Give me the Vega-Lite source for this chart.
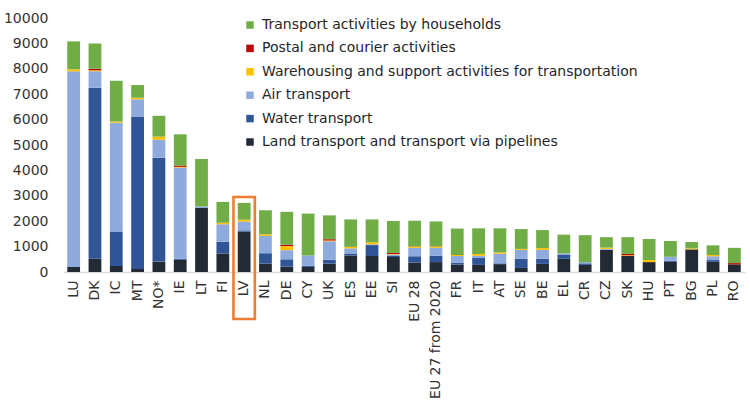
{
  "$schema": "https://vega.github.io/schema/vega-lite/v6.json",
  "width": 682,
  "height": 254,
  "autosize": {"type": "none"},
  "padding": {"left": 63, "top": 18, "right": 5, "bottom": 137},
  "config": {
    "view": {"stroke": null},
    "font": "DejaVu Sans",
    "axis": {"labelFont": "DejaVu Sans", "labelColor": "#333333"},
    "legend": {"labelFont": "DejaVu Sans", "labelColor": "#262626"}
  },
  "datasets": {
    "series": [
      {"k": "L", "name": "Land transport and transport via pipelines", "rank": 1},
      {"k": "Wa", "name": "Water transport", "rank": 2},
      {"k": "A", "name": "Air transport", "rank": 3},
      {"k": "W", "name": "Warehousing and support activities for transportation", "rank": 4},
      {"k": "P", "name": "Postal and courier activities", "rank": 5},
      {"k": "H", "name": "Transport activities by households", "rank": 6}
    ],
    "bars": [
      {"c": "LU", "L": 200, "Wa": 0, "A": 7700, "W": 80, "P": 0, "H": 1100},
      {"c": "DK", "L": 520, "Wa": 6730, "A": 650, "W": 40, "P": 60, "H": 1000},
      {"c": "IC", "L": 240, "Wa": 1350, "A": 4290, "W": 50, "P": 0, "H": 1600},
      {"c": "MT", "L": 120, "Wa": 6000, "A": 680, "W": 60, "P": 0, "H": 500},
      {"c": "NO*", "L": 410, "Wa": 4090, "A": 710, "W": 120, "P": 0, "H": 820},
      {"c": "IE", "L": 480, "Wa": 40, "A": 3590, "W": 30, "P": 50, "H": 1230},
      {"c": "LT", "L": 2520, "Wa": 0, "A": 60, "W": 0, "P": 0, "H": 1870},
      {"c": "FI", "L": 730, "Wa": 460, "A": 690, "W": 60, "P": 0, "H": 820},
      {"c": "LV", "L": 1590, "Wa": 50, "A": 350, "W": 70, "P": 0, "H": 660},
      {"c": "NL", "L": 330, "Wa": 410, "A": 680, "W": 60, "P": 0, "H": 950},
      {"c": "DE", "L": 210, "Wa": 290, "A": 360, "W": 160, "P": 50, "H": 1300},
      {"c": "CY", "L": 200, "Wa": 40, "A": 410, "W": 0, "P": 0, "H": 1650},
      {"c": "UK", "L": 330, "Wa": 150, "A": 730, "W": 30, "P": 50, "H": 940},
      {"c": "ES", "L": 650, "Wa": 80, "A": 200, "W": 60, "P": 0, "H": 1080},
      {"c": "EE", "L": 630, "Wa": 430, "A": 30, "W": 80, "P": 0, "H": 900},
      {"c": "SI", "L": 590, "Wa": 40, "A": 60, "W": 20, "P": 40, "H": 1260},
      {"c": "EU 28", "L": 370, "Wa": 250, "A": 330, "W": 50, "P": 10, "H": 1010},
      {"c": "EU 27 from 2020", "L": 390, "Wa": 250, "A": 310, "W": 50, "P": 10, "H": 980},
      {"c": "FR", "L": 290, "Wa": 80, "A": 260, "W": 40, "P": 0, "H": 1040},
      {"c": "IT", "L": 280, "Wa": 270, "A": 90, "W": 70, "P": 0, "H": 1010},
      {"c": "AT", "L": 310, "Wa": 30, "A": 380, "W": 50, "P": 0, "H": 950},
      {"c": "SE", "L": 160, "Wa": 360, "A": 350, "W": 40, "P": 0, "H": 780},
      {"c": "BE", "L": 320, "Wa": 200, "A": 350, "W": 70, "P": 0, "H": 710},
      {"c": "EL", "L": 520, "Wa": 170, "A": 40, "W": 0, "P": 0, "H": 740},
      {"c": "CR", "L": 280, "Wa": 60, "A": 50, "W": 0, "P": 0, "H": 1060},
      {"c": "CZ", "L": 870, "Wa": 0, "A": 40, "W": 50, "P": 0, "H": 410},
      {"c": "SK", "L": 630, "Wa": 0, "A": 0, "W": 30, "P": 50, "H": 660},
      {"c": "HU", "L": 390, "Wa": 0, "A": 0, "W": 80, "P": 0, "H": 830},
      {"c": "PT", "L": 400, "Wa": 40, "A": 160, "W": 0, "P": 0, "H": 620},
      {"c": "BG", "L": 890, "Wa": 0, "A": 0, "W": 40, "P": 0, "H": 250},
      {"c": "PL", "L": 400, "Wa": 70, "A": 150, "W": 50, "P": 0, "H": 380},
      {"c": "RO", "L": 300, "Wa": 0, "A": 0, "W": 0, "P": 50, "H": 600}
    ],
    "box": [
      {"c": "LV", "top": 2950, "bottom": -1850}
    ]
  },
  "layer": [
    {
      "data": {"name": "bars"},
      "transform": [
        {"fold": ["L", "Wa", "A", "W", "P", "H"], "as": ["k", "v"]},
        {"lookup": "k", "from": {"data": {"name": "series"}, "key": "k", "fields": ["name", "rank"]}}
      ],
      "mark": {"type": "bar"},
      "encoding": {
        "x": {
          "field": "c", "type": "nominal", "sort": null,
          "scale": {"paddingInner": 0.4, "paddingOuter": 0.2},
          "axis": {
            "title": null, "ticks": false, "labelAngle": -90, "labelAlign": "right",
            "labelBaseline": "middle", "labelPadding": 8, "labelFontSize": 14,
            "domainColor": "#d9d9d9", "domainWidth": 1.5
          }
        },
        "y": {
          "field": "v", "type": "quantitative", "stack": "zero",
          "scale": {"domain": [0, 10000], "nice": false},
          "axis": {
            "title": null, "grid": false, "domain": false, "ticks": false,
            "values": [0, 1000, 2000, 3000, 4000, 5000, 6000, 7000, 8000, 9000, 10000],
            "format": "d", "labelFontSize": 14, "labelPadding": 15, "labelOverlap": false
          }
        },
        "color": {
          "field": "name", "type": "nominal",
          "sort": [
            "Transport activities by households",
            "Postal and courier activities",
            "Warehousing and support activities for transportation",
            "Air transport",
            "Water transport",
            "Land transport and transport via pipelines"
          ],
          "scale": {
            "domain": [
              "Transport activities by households",
              "Postal and courier activities",
              "Warehousing and support activities for transportation",
              "Air transport",
              "Water transport",
              "Land transport and transport via pipelines"
            ],
            "range": ["#70AD47", "#C00000", "#FFC000", "#8FAADC", "#2F5597", "#222A35"]
          },
          "legend": {
            "title": null, "orient": "none", "legendX": 180, "legendY": 0,
            "symbolType": "square", "symbolSize": 56, "symbolStrokeWidth": 0,
            "labelFontSize": 14, "labelOffset": 5, "rowPadding": 9.4, "padding": 0,
            "labelLimit": 500
          }
        },
        "order": {"field": "rank", "type": "quantitative"}
      }
    },
    {
      "data": {"name": "box"},
      "mark": {"type": "bar", "filled": false, "stroke": "#ED7D31", "strokeWidth": 2.6, "width": {"band": 1.67}, "clip": false},
      "encoding": {
        "x": {
          "field": "c", "type": "nominal", "sort": null,
          "axis": {
            "title": null, "ticks": false, "labelAngle": -90, "labelAlign": "right",
            "labelBaseline": "middle", "labelPadding": 8, "labelFontSize": 14,
            "domainColor": "#d9d9d9", "domainWidth": 1.5
          }
        },
        "y": {
          "field": "top", "type": "quantitative",
          "axis": {
            "title": null, "grid": false, "domain": false, "ticks": false,
            "values": [0, 1000, 2000, 3000, 4000, 5000, 6000, 7000, 8000, 9000, 10000],
            "format": "d", "labelFontSize": 14, "labelPadding": 15, "labelOverlap": false
          }
        },
        "y2": {"field": "bottom"}
      }
    }
  ]
}
